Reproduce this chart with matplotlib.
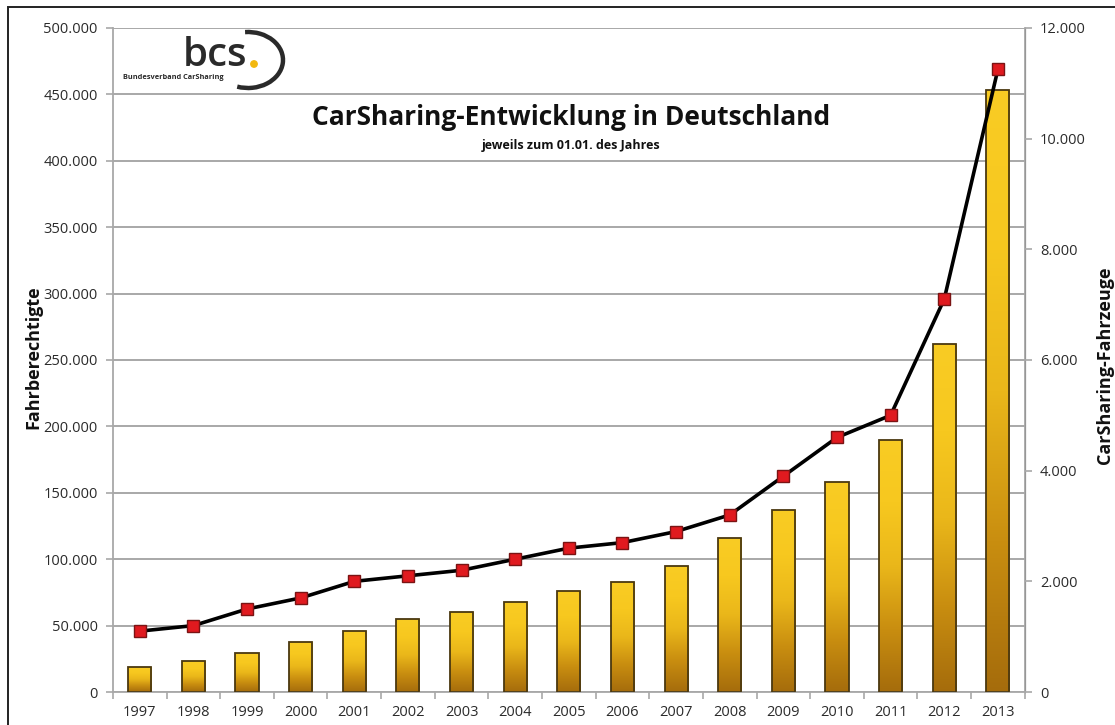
import numpy as np
import matplotlib.pyplot as plt
from matplotlib.colors import LinearSegmentedColormap
from matplotlib.patches import Arc, Rectangle
from matplotlib.ticker import FuncFormatter, MultipleLocator, FixedLocator

plt.rcParams['font.family'] = ['Open Sans', 'DejaVu Sans']

years = ['1997', '1998', '1999', '2000', '2001', '2002', '2003', '2004', '2005',
         '2006', '2007', '2008', '2009', '2010', '2011', '2012', '2013']
fahrberechtigte = [19000, 23000, 29000, 38000, 46000, 55000, 60000, 68000, 76000,
                   83000, 95000, 116000, 137000, 158000, 190000, 262000, 453000]
fahrzeuge = [1100, 1200, 1500, 1700, 2000, 2100, 2200, 2400, 2600,
             2700, 2900, 3200, 3900, 4600, 5000, 7100, 11250]

def de_fmt(v, pos=None):
    return f"{int(round(v)):,}".replace(',', '.')

fig = plt.figure(figsize=(11.15, 7.25), dpi=100)
ax = fig.add_axes([0.1013, 0.0455, 0.8177, 0.9159])
ax2 = ax.twinx()

grid_col = '#a8a8a8'
label_col = '#2b2b2b'

# bars with vertical gold gradient
x = np.arange(len(years))
w = 0.43
bars = ax.bar(x, fahrberechtigte, width=w, facecolor='none', edgecolor='#4a3810',
              linewidth=1.3, zorder=3)
gold = LinearSegmentedColormap.from_list(
    'gold', ['#a56c0c', '#c98e10', '#eab71a', '#f7c81f', '#f9cc24'])
grad = np.linspace(0, 1, 256).reshape(-1, 1)
for b in bars:
    im = ax.imshow(grad, cmap=gold, origin='lower', aspect='auto', zorder=2,
                   extent=(b.get_x(), b.get_x() + b.get_width(), 0, b.get_height()))
    im.set_clip_path(b)

ax.set_xlim(-0.5, len(years) - 0.5)
ax.set_ylim(0, 500000)
ax.yaxis.set_major_locator(MultipleLocator(50000))
ax.yaxis.set_major_formatter(FuncFormatter(de_fmt))
ax.yaxis.grid(True, color=grid_col, linewidth=1.4, zorder=0)
ax.set_axisbelow(True)
ax.set_xticks(x)
ax.set_xticklabels(years)
ax.xaxis.set_minor_locator(FixedLocator(np.arange(-0.5, len(years), 1)))
ax.tick_params(axis='x', which='major', length=0, pad=9, labelsize=10.5,
               labelcolor=label_col)
ax.tick_params(axis='x', which='minor', length=5, color=grid_col, width=1.2)
ax.tick_params(axis='y', length=5, color=grid_col, width=1.2, pad=6,
               labelsize=10.5, labelcolor=label_col)
for s in ['top']:
    ax.spines[s].set_visible(False)
    ax2.spines[s].set_visible(False)
for s in ['left', 'bottom']:
    ax.spines[s].set_color(grid_col)
    ax.spines[s].set_linewidth(1.3)
ax2.spines['right'].set_color(grid_col)
ax2.spines['right'].set_linewidth(1.3)
ax2.spines['left'].set_visible(False)
ax2.spines['bottom'].set_visible(False)

# vehicles line on the secondary axis
ax2.plot(x, fahrzeuge, color='black', linewidth=2.6, marker='s', markersize=9,
         markerfacecolor='#e01a1f', markeredgecolor='#7a1414',
         markeredgewidth=1.0, zorder=5)
ax2.set_ylim(0, 12000)
ax2.yaxis.set_major_locator(MultipleLocator(2000))
ax2.yaxis.set_major_formatter(FuncFormatter(de_fmt))
ax2.tick_params(axis='y', length=5, color=grid_col, width=1.2, pad=6,
                labelsize=10.5, labelcolor=label_col)

# axis titles
fig.text(33 / 1115, 1 - 357 / 725, 'Fahrberechtigte', rotation=90, ha='center',
         va='center', fontsize=13, fontweight='bold', color='#111111')
fig.text(1105 / 1115, 1 - 365 / 725, 'CarSharing-Fahrzeuge', rotation=90,
         ha='center', va='center', fontsize=13, fontweight='bold', color='#111111')

fig.text(0.512, 0.838, 'CarSharing-Entwicklung in Deutschland', ha='center',
         va='center', fontsize=19, fontweight='bold', color='#111111')
fig.text(0.512, 0.799, 'jeweils zum 01.01. des Jahres', ha='center',
         va='center', fontsize=9, fontweight='bold', color='#111111')

# bcs logo
fig.text(183 / 1115, 1 - 66 / 725, 'bcs', fontsize=29, color='#2a2a2a',
         ha='left', va='baseline', fontweight='semibold')
fig.text(123 / 1115, 1 - 79 / 725, 'Bundesverband CarSharing', fontsize=5.3,
         fontweight='bold', color='#2a2a2a', ha='left', va='baseline')
fig.add_artist(plt.Circle((254, 725 - 64), 3.2, transform=None,
                          color='#f2b80f', zorder=10))
fig.add_artist(Arc((248, 725 - 60), 70, 56, theta1=-112, theta2=96,
                   transform=None, color='#2a2a2a', linewidth=3.2, zorder=10))

# outer frame
fig.add_artist(Rectangle((8, -10), 1200, 725 - 7 + 10, transform=None,
                         fill=False, edgecolor='#222222', linewidth=1.4))

fig.savefig('out.png', dpi=100)
